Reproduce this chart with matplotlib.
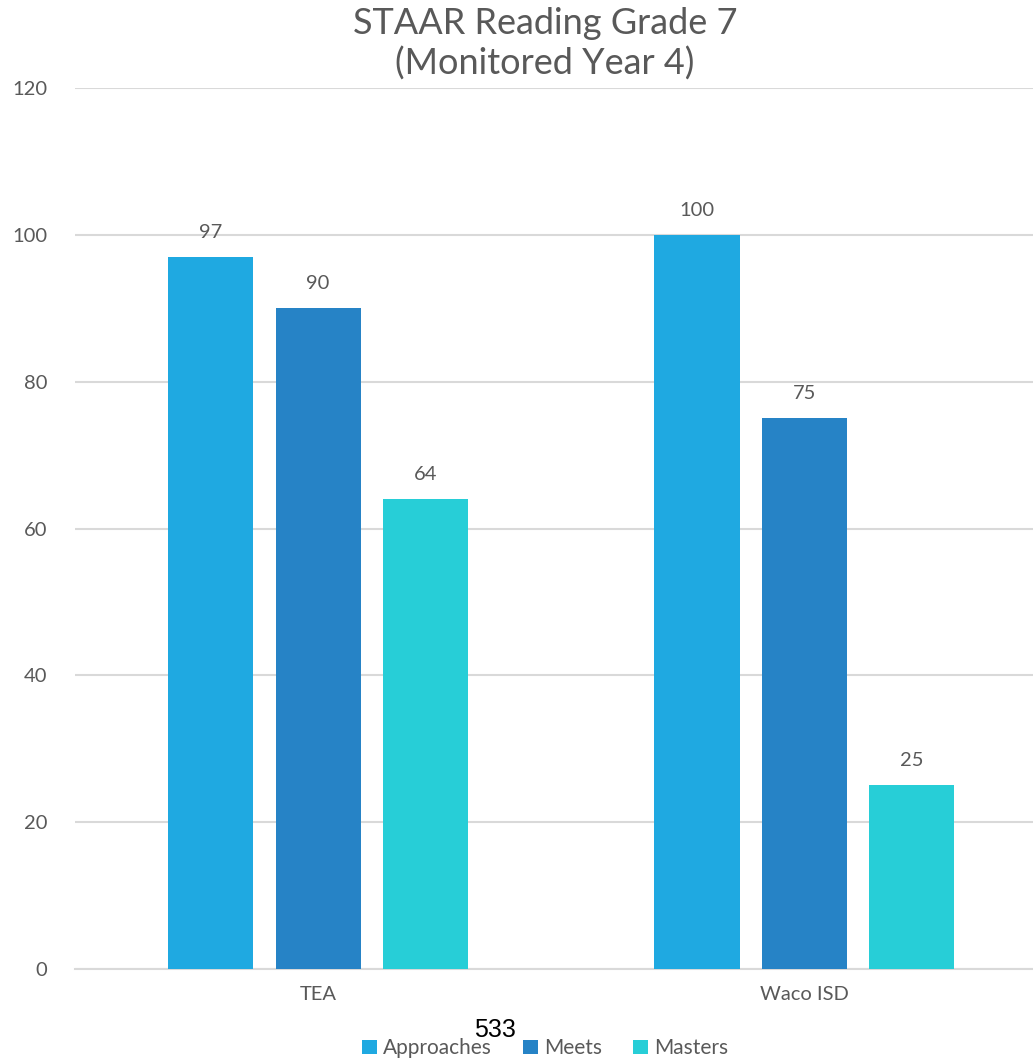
import numpy as np
import matplotlib.pyplot as plt
import matplotlib as mpl
mpl.rcParams['font.family'] = ['Lato', 'DejaVu Sans']

categories = ['TEA', 'Waco ISD']
series = ['Approaches', 'Meets', 'Masters']
values = {
    'Approaches': [97, 100],
    'Meets': [90, 75],
    'Masters': [64, 25],
}
colors = ['#1FA9E1', '#2683C6', '#27CED7']
gray = '#595959'

fig = plt.figure(figsize=(10.33, 10.62), dpi=100)
ax = fig.add_axes([0.0726, 0.0876, 0.9274, 0.8294])

x = np.arange(len(categories))
width = 0.175
offsets = [-0.221, 0, 0.221]
for name, off, c in zip(series, offsets, colors):
    bars = ax.bar(x + off, values[name], width, color=c, label=name, zorder=3)
    for b, v in zip(bars, values[name]):
        ax.text(b.get_x() + b.get_width() / 2, v + 2.2, str(v), ha='center', va='bottom',
                fontsize=14.5, color=gray)

ax.set_ylim(0, 120)
ax.set_xlim(-0.5, 1.47)
ax.set_yticks(range(0, 121, 20))
ax.set_xticks(x)
ax.set_xticklabels(categories)
ax.grid(axis='y', color='#D9D9D9', linewidth=1.5, zorder=0)
for s in ['top', 'right', 'left']:
    ax.spines[s].set_visible(False)
ax.spines['bottom'].set_color('#D9D9D9')
ax.spines['bottom'].set_linewidth(1.5)
ax.tick_params(axis='both', length=0, labelsize=14.5, colors=gray, pad=12)
ax.tick_params(axis='y', pad=20)

fig.text(0.5275, 0.959, 'STAAR Reading Grade 7\n(Monitored Year 4)', ha='center', va='center',
         fontsize=26, color=gray, linespacing=1.25)

fig.legend(loc='center', bbox_to_anchor=(0.528, 0.013), ncol=3, frameon=False,
           fontsize=15, labelcolor=gray, handlelength=0.7, handleheight=0.7,
           handletextpad=0.3, columnspacing=1.5)

fig.text(0.479, 0.03, '533', ha='center', va='center', fontsize=18, color='black',
         family='Liberation Sans')

fig.savefig('out.png', dpi=100)
